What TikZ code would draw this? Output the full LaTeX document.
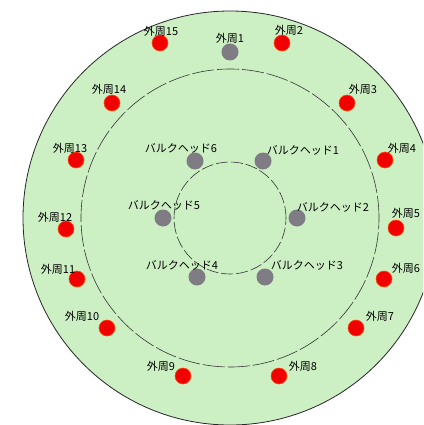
\documentclass[tikz,border=0pt]{standalone}
\usepackage{fontspec}
\newfontfamily\jpfont{Noto Sans CJK JP}
\usepackage{xcolor}
\usetikzlibrary{positioning}

\definecolor{deckgreen}{RGB}{204,240,196}
\definecolor{pinred}{RGB}{240,0,0}
\definecolor{pingrey}{RGB}{128,124,132}

\begin{document}
\begin{tikzpicture}[
    x=1pt, y=-1pt,
    outerpin/.style={circle, fill=pinred, draw=orange!60!red, line width=0.6pt, minimum size=16pt, inner sep=0pt},
    bulkpin/.style={circle, fill=pingrey, minimum size=17pt, inner sep=0pt},
    pintext/.style={font=\jpfont\fontsize{11}{13}\selectfont, inner sep=0pt},
    ring/.style={draw=black!80, line width=0.6pt, dash pattern=on 22pt off 3pt},
    innerring/.style={draw=black!80, line width=0.6pt, dash pattern=on 12pt off 3pt},
]
\useasboundingbox (0,0) rectangle (423,425);
\clip (0,0) rectangle (423,425);

% Rings
\coordinate (c) at (230,218);
\fill[deckgreen] (c) circle (207pt);
\draw[black!85, line width=0.8pt] (c) circle (207pt);
\draw[ring] (c) circle (149pt);
\draw[innerring] (c) circle (56pt);

% Bulkheads
\node[bulkpin] (b1) at (263,161) {};
\node[bulkpin] (b2) at (297,218) {};
\node[bulkpin] (b3) at (265,277) {};
\node[bulkpin] (b4) at (197,277) {};
\node[bulkpin] (b5) at (163,218) {};
\node[bulkpin] (b6) at (195,161) {};

\node[pintext] (tb1) at (303,150) {バルクヘッド1};
\node[pintext] (tb2) at (333,207) {バルクヘッド2};
\node[pintext] (tb3) at (307,265) {バルクヘッド3};
\node[pintext] (tb4) at (182,265) {バルクヘッド4};
\node[pintext] (tb5) at (164,205) {バルクヘッド5};
\node[pintext] (tb6) at (181,148) {バルクヘッド6};

% Perimeter
\node[bulkpin] (p1) at (230,52) {};
\node[outerpin] (p2) at (282,43) {};
\node[outerpin] (p3) at (347,103) {};
\node[outerpin] (p4) at (385,160) {};
\node[outerpin] (p5) at (396,228) {};
\node[outerpin] (p6) at (384,279) {};
\node[outerpin] (p7) at (356,328) {};
\node[outerpin] (p8) at (279,376) {};
\node[outerpin] (p9) at (183,376) {};
\node[outerpin] (p10) at (107,328) {};
\node[outerpin] (p11) at (77,279) {};
\node[outerpin] (p12) at (66,229) {};
\node[outerpin] (p13) at (76,160) {};
\node[outerpin] (p14) at (112,103) {};
\node[outerpin] (p15) at (160,43) {};

\node[pintext] (tp1) at (230,38) {外周1};
\node[pintext] (tp2) at (289,30) {外周2};
\node[pintext] (tp3) at (363,89) {外周3};
\node[pintext] (tp4) at (402,148) {外周4};
\node[pintext] (tp5) at (406,213) {外周5};
\node[pintext] (tp6) at (406,268) {外周6};
\node[pintext] (tp7) at (380,316) {外周7};
\node[pintext] (tp8) at (303,366) {外周8};
\node[pintext] (tp9) at (161,366) {外周9};
\node[pintext] (tp10) at (82,316) {外周10};
\node[pintext] (tp11) at (58,269) {外周11};
\node[pintext] (tp12) at (55,217) {外周12};
\node[pintext] (tp13) at (70,148) {外周13};
\node[pintext] (tp14) at (109,89) {外周14};
\node[pintext] (tp15) at (161,31) {外周15};

\end{tikzpicture}
\end{document}
